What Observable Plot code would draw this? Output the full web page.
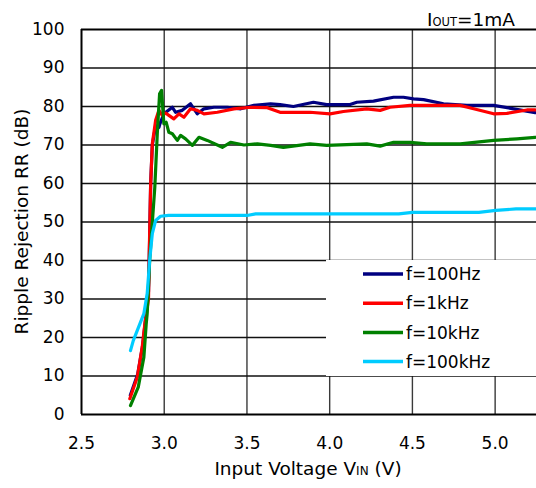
<!DOCTYPE html>
<html>
<head>
<meta charset="utf-8">
<script src="https://cdn.jsdelivr.net/npm/d3@7"></script>
<script src="https://cdn.jsdelivr.net/npm/@observablehq/plot@0.6"></script>
<style>
  html, body { margin: 0; padding: 0; background: #fff; }
  #chart svg { display: block; }
</style>
</head>
<body>
<div id="chart"></div>
<script>
// Series names, colours
const seriesNames = ["f=100Hz", "f=1kHz", "f=10kHz", "f=100kHz"];
const seriesColors = ["#000080", "#ff0000", "#008000", "#00ccff"];

// [Input voltage (V), Ripple rejection (dB)]
const f100Hz = [[2.795,5],[2.84,10.5],[2.87,18],[2.885,24],[2.905,32],[2.912,46],[2.918,60],[2.928,70],[2.948,75],
  [2.968,74.6],[2.974,75.5],[2.998,78.1],[3.049,79.8],[3.069,78.5],[3.109,79.0],[3.159,80.7],[3.200,78.1],
  [3.240,79.4],[3.300,79.8],[3.381,79.8],[3.462,79.4],[3.542,80.3],[3.643,80.7],[3.700,80.5],[3.781,80.0],
  [3.902,81.1],[3.982,80.5],[4.123,80.5],[4.164,81.1],[4.265,81.4],[4.386,82.4],[4.446,82.4],[4.507,82.0],
  [4.567,81.8],[4.688,80.7],[4.829,80.3],[4.991,80.3],[5.112,79.4],[5.242,78.4]];
const f1kHz = [[2.792,4.1],[2.837,9.7],[2.867,17.5],[2.883,23.5],[2.905,30],[2.911,45],[2.918,60],[2.928,70.3],
  [2.948,76.4],[2.968,79.0],[2.988,77.7],[3.008,78.3],[3.028,77.7],[3.058,76.8],[3.089,78.1],[3.119,77.2],
  [3.159,79.4],[3.200,79.0],[3.240,78.1],[3.321,78.5],[3.421,79.4],[3.522,79.8],[3.623,79.7],[3.700,78.5],
  [3.881,78.5],[4.002,78.1],[4.083,78.7],[4.224,79.4],[4.305,79.0],[4.365,79.8],[4.486,80.3],[4.789,80.3],
  [4.870,79.4],[4.991,78.1],[5.071,78.2],[5.192,79.1],[5.242,79.1]];
const f10kHz = [[2.796,2.3],[2.843,7.1],[2.877,14.9],[2.891,23.5],[2.897,26.2],[2.912,40],[2.925,48],[2.943,59],
  [2.958,72.9],[2.972,83.3],[2.984,84.2],[2.992,79.0],[2.998,75.5],[3.012,75.9],[3.028,73.3],[3.049,72.9],
  [3.079,71.2],[3.099,72.5],[3.129,71.6],[3.170,69.9],[3.210,72.0],[3.260,71.2],[3.351,69.4],[3.401,70.7],
  [3.482,70.0],[3.563,70.3],[3.643,69.9],[3.720,69.4],[3.881,70.3],[3.982,69.9],[4.224,70.3],[4.305,69.7],
  [4.386,70.7],[4.486,70.7],[4.587,70.3],[4.789,70.3],[4.991,71.2],[5.132,71.6],[5.242,72.0]];
const f100kHz = [[2.796,16.6],[2.813,19.2],[2.877,26.2],[2.897,31.4],[2.912,40],[2.928,47.0],[2.948,50.4],
  [2.978,51.5],[3.026,51.7],[3.500,51.7],[3.553,52.1],[4.418,52.1],[4.500,52.5],[4.902,52.5],[5.004,53.0],
  [5.126,53.4],[5.250,53.4]];

// Tick values
const xTicks = [2.5, 3.0, 3.5, 4.0, 4.5, 5.0];
const yTicks = [0, 10, 20, 30, 40, 50, 60, 70, 80, 90, 100];
const xGrid = [3.0, 3.5, 4.0, 4.5, 5.0];
const yGrid = [10, 20, 30, 40, 50, 60, 70, 80, 90];

const seriesData = [f100Hz, f1kHz, f10kHz, f100kHz];
const rows = seriesData.flatMap((arr, i) => arr.map(([v, db]) => ({v, db, s: seriesNames[i]})));

const FONT = "DejaVu Sans, Liberation Sans, Arial, sans-serif";

const plot = Plot.plot({
  width: 536,
  height: 488,
  marginLeft: 81,
  marginRight: 0,
  marginTop: 29,
  marginBottom: 74,
  style: {fontFamily: FONT, fontSize: "17px", color: "#000", background: "#fff"},
  x: {domain: [2.5, 5.25], label: null},
  y: {domain: [0, 100], label: null},
  color: {domain: seriesNames, range: seriesColors},
  marks: [
    Plot.ruleX(xGrid, {stroke: "#3a3a3a", strokeWidth: 1.4}),
    Plot.ruleY(yGrid, {stroke: "#111", strokeWidth: 1.3}),
    Plot.ruleX([2.5], {stroke: "#000", strokeWidth: 2}),
    Plot.ruleY([0, 100], {stroke: "#000", strokeWidth: 2}),
    Plot.axisX({ticks: xTicks, tickFormat: d3.format(".1f"), tickSize: 0, tickPadding: 22, fontSize: 17, label: null}),
    Plot.axisY({ticks: yTicks, tickSize: 0, tickPadding: 17, fontSize: 17, label: null}),
    Plot.line(rows, {x: "v", y: "db", stroke: "s", z: "s", strokeWidth: 3.2, strokeLinejoin: "round", strokeLinecap: "round"})
  ]
});

document.getElementById("chart").appendChild(plot);

const svg = d3.select(plot);

// Legend (inside plot area, white box)
const lg = svg.append("g").attr("font-family", FONT).attr("font-size", 17).attr("text-anchor", "start");
lg.append("rect").attr("x", 326).attr("y", 260).attr("width", 210).attr("height", 116).attr("fill", "#fff");
seriesNames.forEach((name, i) => {
  const y = 274 + i * 29.2;
  lg.append("line").attr("x1", 363).attr("x2", 403).attr("y1", y).attr("y2", y)
    .attr("stroke", seriesColors[i]).attr("stroke-width", 3.5);
  lg.append("text").attr("x", 406).attr("y", y).attr("dy", "0.36em").attr("text-anchor", "start").text(name);
});

// Axis titles
svg.append("text")
  .attr("transform", "translate(21,221.5) rotate(-90)")
  .attr("text-anchor", "middle").attr("dy", "0.36em")
  .attr("font-family", FONT).attr("font-size", 18.5)
  .text("Ripple Rejection RR (dB)");

const xt = svg.append("text")
  .attr("x", 308).attr("y", 468).attr("text-anchor", "middle").attr("dy", "0.36em")
  .attr("font-family", FONT).attr("font-size", 18.5);
xt.append("tspan").text("Input Voltage V");
xt.append("tspan").attr("font-size", 12).text("IN");
xt.append("tspan").text(" (V)");

// Condition label
const ct = svg.append("text")
  .attr("x", 515).attr("y", 19).attr("text-anchor", "end").attr("dy", "0.36em")
  .attr("font-family", FONT).attr("font-size", 18.5);
ct.append("tspan").text("I");
ct.append("tspan").attr("font-size", 11.5).text("OUT");
ct.append("tspan").text("=1mA");
</script>
</body>
</html>
